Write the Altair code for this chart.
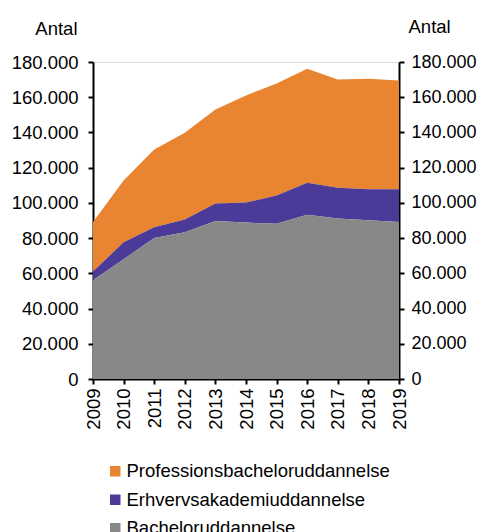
import altair as alt
import pandas as pd

years = [2009, 2010, 2011, 2012, 2013, 2014, 2015, 2016, 2017, 2018, 2019]
bachelor = [56100, 68000, 80000, 83300, 89700, 88800, 88200, 93200, 91100, 90100, 89200]
erhverv = [4900, 9600, 6100, 7200, 9900, 11400, 16000, 18200, 17500, 17700, 18600]
profession = [28100, 35100, 44200, 49300, 53400, 60800, 63600, 64700, 61400, 62700, 61700]

series = ["Professionsbacheloruddannelse", "Erhvervsakademiuddannelse", "Bacheloruddannelse"]
colors = ["#E98430", "#4B3A97", "#888888"]
stack_order = {"Bacheloruddannelse": 0, "Erhvervsakademiuddannelse": 1, "Professionsbacheloruddannelse": 2}

rows = []
for name, vals in zip(series, [profession, erhverv, bachelor]):
    for y, v in zip(years, vals):
        rows.append({"year": y, "serie": name, "value": v, "ord": stack_order[name]})
df = pd.DataFrame(rows)

FONT = "Liberation Sans"
FS = 18.5

xaxis = alt.Axis(values=years, format="d", labelAngle=-90, labelAlign="right",
                 labelBaseline="middle", title=None, grid=False,
                 domainColor="black", domainWidth=2, tickColor="black",
                 tickWidth=2, tickSize=5, labelPadding=4,
                 labelFont=FONT, labelFontSize=FS, labelColor="black")
xscale = alt.Scale(domain=[2009, 2019], nice=False, zero=False)

yscale = alt.Scale(domain=[0, 180000], nice=False)
yvals = list(range(0, 180001, 20000))

area = alt.Chart(df).mark_area(opacity=1).encode(
    x=alt.X("year:Q", scale=xscale, axis=xaxis),
    y=alt.Y("value:Q", stack="zero", scale=yscale,
            axis=alt.Axis(values=yvals, format=",d", orient="left",
                          grid=False, title="Antal", titleAngle=0, titleAlign="right",
                          titleBaseline="alphabetic", titleX=-16, titleY=-28,
                          titleFont=FONT, titleFontSize=FS, titleFontWeight="normal",
                          titleColor="black",
                          domainColor="black", domainWidth=2, tickColor="black",
                          tickWidth=2, tickSize=5, labelPadding=10,
                          labelFont=FONT, labelFontSize=FS, labelColor="black")),
    color=alt.Color("serie:N", scale=alt.Scale(domain=series, range=colors),
                    sort=series,
                    legend=alt.Legend(title=None, orient="none", legendX=13, legendY=400,
                                      direction="vertical", symbolType="square",
                                      symbolSize=110, symbolStrokeWidth=0,
                                      rowPadding=9.5, labelOffset=2, padding=0, labelLimit=0,
                                      labelFont=FONT, labelFontSize=FS, labelColor="black")),
    order=alt.Order("ord:Q", sort="ascending"),
)

right = alt.Chart(df).mark_point(opacity=0).encode(
    x=alt.X("year:Q", scale=xscale, axis=xaxis),
    y=alt.Y("value:Q", scale=yscale,
            axis=alt.Axis(values=yvals, format=",d", orient="right",
                          grid=False, title="Antal", titleAngle=0, titleAlign="left",
                          titleBaseline="alphabetic", titleX=9, titleY=-30,
                          titleFont=FONT, titleFontSize=FS, titleFontWeight="normal",
                          titleColor="black",
                          domainColor="black", domainWidth=2, tickColor="black",
                          tickWidth=2, tickSize=5, labelPadding=7,
                          labelFont=FONT, labelFontSize=18, labelColor="black")),
)

chart = alt.layer(area, right).resolve_scale(y="independent").properties(
    width=306, height=317,
    autosize=alt.AutoSizeParams(type="none"),
    padding={"left": 85, "top": 54, "right": 78, "bottom": 160},
).configure_view(stroke=None).configure(
    locale={"number": {"decimal": ",", "thousands": ".", "grouping": [3], "currency": ["", " kr."]}}
)

chart.save("out.html", embed_options={"renderer": "svg", "actions": False})
